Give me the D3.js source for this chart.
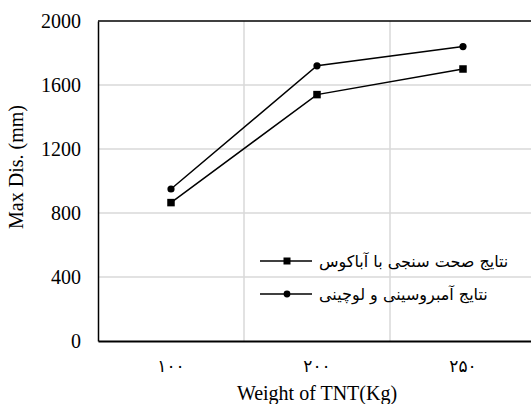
<!DOCTYPE html>
<html>
<head>
<meta charset="utf-8">
<script src="https://cdn.jsdelivr.net/npm/d3@7"></script>
<style>
  html, body { margin: 0; padding: 0; background: #fff; }
  svg { display: block; }
</style>
</head>
<body>
<svg id="chart" width="531" height="404"></svg>
<script>
// ---- Data ----
const categories = ["100", "200", "250"];
const categoryLabels = ["۱۰۰", "۲۰۰", "۲۵۰"];
const abaqusValues = [865, 1540, 1700];      // square markers
const ambrosiniValues = [950, 1720, 1840];    // circle markers
const yTicks = [0, 400, 800, 1200, 1600, 2000];
const seriesNames = ["نتایج صحت سنجی با آباکوس", "نتایج آمبروسینی و لوچینی"];
const xTitle = "Weight of TNT(Kg)";
const yTitle = "Max Dis. (mm)";

// ---- Layout ----
const W = 531, H = 404;
const m = { left: 98, top: 21, right: -5, bottom: 63 };
const plotBottom = H - m.bottom;   // 341
const plotRight = W - m.right;     // 536

const svg = d3.select("#chart");

const x = d3.scaleBand().domain(categories).range([m.left, plotRight]).padding(0);
const y = d3.scaleLinear().domain([0, 2000]).range([plotBottom, m.top]);

const serif = "'Liberation Serif', 'Times New Roman', serif";
const arabicFont = "'DejaVu Sans', sans-serif";

// Gridlines horizontal
svg.append("g").selectAll("line").data(yTicks.filter(d => d > 0 && d < 2000))
  .join("line")
  .attr("x1", m.left).attr("x2", plotRight)
  .attr("y1", d => y(d)).attr("y2", d => y(d))
  .attr("stroke", "#d9d9d9").attr("stroke-width", 1.5);

// Gridlines vertical (band boundaries)
svg.append("g").selectAll("line").data(categories.slice(1))
  .join("line")
  .attr("x1", d => x(d)).attr("x2", d => x(d))
  .attr("y1", m.top).attr("y2", plotBottom)
  .attr("stroke", "#d9d9d9").attr("stroke-width", 1.5);

// Top border
svg.append("line")
  .attr("x1", m.left).attr("x2", plotRight)
  .attr("y1", y(2000)).attr("y2", y(2000))
  .attr("stroke", "#000").attr("stroke-width", 1.5);

// Y axis
const yAxis = d3.axisLeft(y).tickValues(yTicks).tickSize(0).tickPadding(17).tickFormat(d3.format("d"));
const gy = svg.append("g").attr("transform", `translate(${m.left},0)`).call(yAxis);
gy.attr("font-family", serif);
gy.select(".domain").attr("stroke", "#000").attr("stroke-width", 1.5);
gy.selectAll("text").attr("font-family", serif).attr("font-size", 20).attr("fill", "#000");

// X axis
const xAxis = d3.axisBottom(x).tickSize(0).tickPadding(19).tickFormat((d, i) => categoryLabels[i]);
const gx = svg.append("g").attr("transform", `translate(0,${plotBottom})`).call(xAxis);
gx.select(".domain").attr("stroke", "#000").attr("stroke-width", 2);
gx.selectAll("text").attr("font-family", arabicFont).attr("font-size", 17)
  .attr("letter-spacing", 3).attr("fill", "#000");

// Axis titles
svg.append("text")
  .attr("x", x.range()[0] + 219).attr("y", 400)
  .attr("text-anchor", "middle")
  .attr("font-family", serif).attr("font-size", 20).attr("fill", "#000")
  .text(xTitle);

svg.append("text")
  .attr("transform", `translate(23,${167}) rotate(-90)`)
  .attr("text-anchor", "middle")
  .attr("font-family", serif).attr("font-size", 20).attr("fill", "#000")
  .text(yTitle);

// Lines
const line = d3.line().x((d, i) => x(categories[i]) + x.bandwidth() / 2).y(d => y(d));

svg.append("path").datum(ambrosiniValues)
  .attr("d", line).attr("fill", "none").attr("stroke", "#000").attr("stroke-width", 1.5);
svg.append("path").datum(abaqusValues)
  .attr("d", line).attr("fill", "none").attr("stroke", "#000").attr("stroke-width", 1.5);

// Markers
svg.append("g").selectAll("circle").data(ambrosiniValues).join("circle")
  .attr("cx", (d, i) => x(categories[i]) + x.bandwidth() / 2)
  .attr("cy", d => y(d)).attr("r", 3.6).attr("fill", "#000");

const sq = 7.5;
svg.append("g").selectAll("rect").data(abaqusValues).join("rect")
  .attr("x", (d, i) => x(categories[i]) + x.bandwidth() / 2 - sq / 2)
  .attr("y", d => y(d) - sq / 2).attr("width", sq).attr("height", sq).attr("fill", "#000");

// Legend
const legendRows = [
  { name: seriesNames[0], marker: "square", cy: 261 },
  { name: seriesNames[1], marker: "circle", cy: 294 }
];
const lg = svg.append("g");
legendRows.forEach(r => {
  lg.append("line").attr("x1", 260).attr("x2", 312).attr("y1", r.cy).attr("y2", r.cy)
    .attr("stroke", "#000").attr("stroke-width", 1.5);
  if (r.marker === "square") {
    lg.append("rect").attr("x", 287 - 3.5).attr("y", r.cy - 3.5).attr("width", 7).attr("height", 7).attr("fill", "#000");
  } else {
    lg.append("circle").attr("cx", 287).attr("cy", r.cy).attr("r", 3.4).attr("fill", "#000");
  }
  lg.append("text").attr("x", 319).attr("y", r.cy).attr("dy", "0.35em")
    .attr("text-anchor", "start")
    .attr("font-family", arabicFont).attr("font-size", 16).attr("fill", "#000")
    .text(r.name);
});
</script>
</body>
</html>
